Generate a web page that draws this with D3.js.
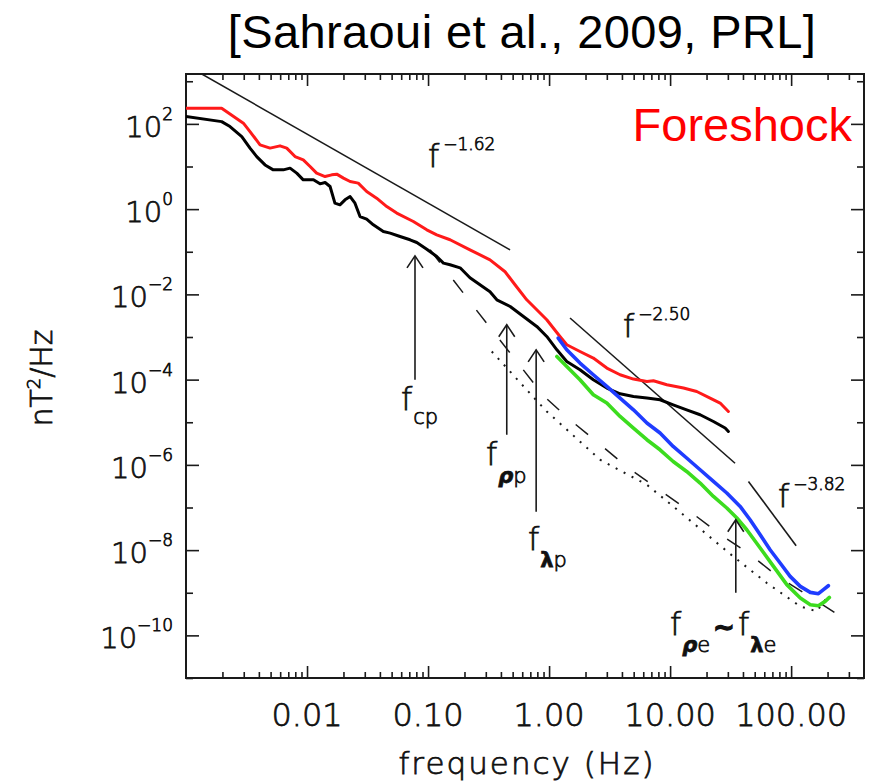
<!DOCTYPE html>
<html>
<head>
<meta charset="utf-8">
<script src="https://cdn.jsdelivr.net/npm/d3@7"></script>
<style>
  body { margin: 0; background: #fff; }
  .lbl { font-family: "DejaVu Sans", sans-serif; font-weight: 200; fill: #111;
         stroke: #111; stroke-width: 0.75px; }
</style>
</head>
<body>
<svg id="chart" width="870" height="784"></svg>
<script>
// ---- axis ticks ----
const xMajorTicks = [0.01, 0.1, 1, 10, 100];
const xTickLabels = ["0.01", "0.10", "1.00", "10.00", "100.00"];
const yDecadeExponents = [-11, -10, -9, -8, -7, -6, -5, -4, -3, -2, -1, 0, 1, 2, 3];
const yLabelExponents = [2, 0, -2, -4, -6, -8, -10];

// ---- spectra: [frequency (Hz), PSD (nT^2/Hz)] ----
const redSpectrum = [
  [0.001, 234], [0.00197, 234], [0.00298, 104], [0.00338, 66], [0.00409, 32.2],
  [0.00495, 27], [0.00598, 30.5], [0.0068, 27], [0.00796, 17.1], [0.00931, 14.3],
  [0.0106, 10], [0.012, 6.98], [0.0141, 5.82], [0.016, 6.37], [0.0176, 6.62],
  [0.02, 5.33], [0.0227, 4.44], [0.0265, 4.07], [0.0311, 2.59], [0.0376, 1.81],
  [0.0456, 1.15], [0.0551, 0.806], [0.0756, 0.512], [0.0976, 0.327], [0.118, 0.249],
  [0.152, 0.191], [0.222, 0.111], [0.325, 0.0647], [0.433, 0.0339], [0.523, 0.0168],
  [0.654, 0.00746], [0.957, 0.00254], [1.23, 0.00103], [1.40, 6.57e-4], [1.80, 4.57e-4],
  [2.32, 3.21e-4], [3.00, 1.87e-4], [3.86, 1.30e-4], [4.98, 1.03e-4], [6.43, 9.06e-5],
  [7.28, 9.40e-5], [9.40, 7.57e-5], [12.9, 6.34e-5], [16.6, 5.27e-5], [21.4, 3.70e-5],
  [25.9, 2.82e-5], [30.3, 1.79e-5]
];
const blackSpectrum = [
  [0.001, 149], [0.00197, 113], [0.00231, 86.5], [0.00289, 50.4], [0.00338, 27],
  [0.00384, 17.1], [0.0045, 10.9], [0.00526, 8.35], [0.00637, 8.35], [0.00724, 9.15],
  [0.00822, 6.98], [0.00931, 4.87], [0.0113, 4.87], [0.0128, 3.92], [0.0141, 4.21],
  [0.0155, 3.39], [0.017, 1.38], [0.0187, 1.26], [0.0206, 1.65], [0.0227, 1.97],
  [0.0249, 1.38], [0.0274, 0.670], [0.0311, 0.583], [0.0353, 0.428], [0.0427, 0.298],
  [0.0486, 0.274], [0.0587, 0.228], [0.071, 0.191], [0.0807, 0.165], [0.0976, 0.115],
  [0.118, 0.0773], [0.134, 0.0542], [0.152, 0.0494], [0.184, 0.042], [0.222, 0.0245],
  [0.325, 0.0115], [0.370, 0.00746], [0.477, 0.0052], [0.614, 0.00303], [0.791, 0.00177],
  [0.957, 0.00103], [1.16, 5.01e-4], [1.40, 2.67e-4], [1.80, 1.70e-4], [2.32, 9.93e-5],
  [3.00, 6.34e-5], [3.86, 4.66e-5], [4.98, 4.03e-5], [6.43, 3.70e-5], [8.26, 3.37e-5],
  [10.6, 2.57e-5], [13.7, 1.96e-5], [17.7, 1.50e-5], [22.8, 1.04e-5], [28.5, 7.31e-6],
  [30.3, 6.08e-6]
];
const blueSpectrum = [
  [1.19, 9.44e-4], [1.40, 5.01e-4], [1.80, 2.45e-4], [2.32, 1.30e-4], [3.00, 6.92e-5],
  [3.86, 3.70e-5], [4.98, 1.96e-5], [6.43, 9.58e-6], [8.26, 5.58e-6], [10.6, 2.71e-6],
  [13.7, 1.45e-6], [17.7, 7.69e-7], [22.8, 4.09e-7], [29.4, 2.19e-7], [37.9, 1.06e-7],
  [45.8, 5.17e-8], [55.5, 2.30e-8], [67.0, 1.02e-8], [81.1, 4.99e-9], [98.1, 2.42e-9],
  [119, 1.41e-9], [144, 1.02e-9], [168, 9.51e-10], [185, 1.18e-9], [203, 1.46e-9]
];
const greenSpectrum = [
  [1.16, 3.49e-4], [1.40, 2.04e-4], [1.80, 9.93e-5], [2.32, 4.42e-5], [3.00, 2.82e-5],
  [3.86, 1.37e-5], [4.98, 7.31e-6], [6.43, 3.89e-6], [8.26, 2.26e-6], [10.6, 1.20e-6],
  [13.7, 7.02e-7], [17.7, 3.75e-7], [22.8, 1.82e-7], [29.4, 9.73e-8], [35.6, 5.67e-8],
  [43.0, 3.01e-8], [55.5, 1.12e-8], [71.5, 4.15e-9], [92.1, 1.55e-9], [119, 7.53e-10],
  [144, 5.25e-10], [168, 4.97e-10], [191, 6.27e-10], [207, 7.78e-10]
];
const dashedModel = [
  [0.104, 0.111], [0.251, 4.28e-3], [0.910, 4.03e-5], [1.51, 1.10e-5], [2.55, 3.25e-6],
  [4.52, 8.43e-7], [8.26, 2.52e-7], [14.2, 8.55e-8], [25.4, 2.43e-8], [45.0, 8.24e-9],
  [76.2, 2.51e-9], [270, 2.56e-10], [307, 2.10e-10]
];
const dottedModel = [
  [0.336, 4.57e-4], [0.738, 3.96e-5], [0.957, 1.79e-5], [2.64, 1.32e-6], [6.43, 3.42e-7],
  [10.6, 1.06e-7], [33.2, 7.13e-9], [63.0, 1.69e-9], [119, 4.79e-10], [163, 3.66e-10],
  [197, 7.66e-10]
];

// ---- power-law guides: P = amp * f^-slope over [fMin, fMax] ----
const powerLaws = [
  { slope: 1.62, amp: 0.0332, fMin: 0.001, fMax: 0.476, label: "\u22121.62" },
  { slope: 2.50, amp: 7.57e-3, fMin: 1.49, fMax: 34.4, label: "\u22122.50" },
  { slope: 3.82, amp: 0.80, fMin: 44.4, fMax: 110, label: "\u22123.82" }
];
const powerLawLabelPos = [[428, 167], [623, 337], [778, 507]];

// ---- characteristic frequencies: arrow from psdTail up to psdTip ----
const markers = [
  { f: 0.078, psdTip: 0.080, psdTail: 9.9e-5 },
  { f: 0.447, psdTip: 1.94e-3, psdTail: 5.09e-6 },
  { f: 0.782, psdTip: 5.0e-4, psdTail: 7.96e-8 },
  { f: 34.9, psdTip: 5.17e-8, psdTail: 1.0e-9 }
];

// ---- layout ----
const svg = d3.select("#chart");
const pL = 186, pR = 864, pT = 74, pB = 678;
const x = d3.scaleLog().domain([0.001, 400]).range([pL, pR]);
const y = d3.scaleLog().domain([1e-11, 1480]).range([pB, pT]);
const ink = "#1a1a1a";

svg.append("defs").append("clipPath").attr("id", "plot")
  .append("rect").attr("x", pL).attr("y", pT)
  .attr("width", pR - pL).attr("height", pB - pT);

// title
svg.append("text").attr("x", 522).attr("y", 48).attr("text-anchor", "middle")
  .style("font-family", "Liberation Sans, Arial, sans-serif").style("font-size", "47px")
  .style("letter-spacing", "0.4px")
  .attr("fill", "#000").text("[Sahraoui et al., 2009, PRL]");

// ---- axes (ticks pointing inward on all four sides) ----
const xMinor = [];
for (let e = -3; e <= 2; e++) for (let m = 2; m <= 9; m++) {
  const v = m * Math.pow(10, e);
  if (v < 400) xMinor.push(v);
}
const yMinorExp = yDecadeExponents.filter(e => !yLabelExponents.includes(e));

function styleAxis(g) {
  g.select(".domain").remove();
  g.selectAll("line").attr("stroke", ink).attr("stroke-width", 1.6);
  g.selectAll("text").remove();
}
svg.append("g").attr("transform", `translate(0,${pB})`)
  .call(d3.axisBottom(x).tickValues(xMajorTicks).tickSize(-12)).call(styleAxis);
svg.append("g").attr("transform", `translate(0,${pB})`)
  .call(d3.axisBottom(x).tickValues(xMinor).tickSize(-6)).call(styleAxis);
svg.append("g").attr("transform", `translate(0,${pT})`)
  .call(d3.axisTop(x).tickValues(xMajorTicks).tickSize(-12)).call(styleAxis);
svg.append("g").attr("transform", `translate(0,${pT})`)
  .call(d3.axisTop(x).tickValues(xMinor).tickSize(-6)).call(styleAxis);

const yMajorVals = yLabelExponents.map(e => Math.pow(10, e));
const yMinorVals = yMinorExp.map(e => Math.pow(10, e));
svg.append("g").attr("transform", `translate(${pL},0)`)
  .call(d3.axisLeft(y).tickValues(yMajorVals).tickSize(-13)).call(styleAxis);
svg.append("g").attr("transform", `translate(${pL},0)`)
  .call(d3.axisLeft(y).tickValues(yMinorVals).tickSize(-7)).call(styleAxis);
svg.append("g").attr("transform", `translate(${pR},0)`)
  .call(d3.axisRight(y).tickValues(yMajorVals).tickSize(-13)).call(styleAxis);
svg.append("g").attr("transform", `translate(${pR},0)`)
  .call(d3.axisRight(y).tickValues(yMinorVals).tickSize(-7)).call(styleAxis);

svg.append("rect").attr("x", pL).attr("y", pT)
  .attr("width", pR - pL).attr("height", pB - pT)
  .attr("fill", "none").attr("stroke", ink).attr("stroke-width", 2);

// x tick labels
svg.append("g").selectAll("text").data(xMajorTicks).join("text")
  .attr("class", "lbl").attr("x", d => x(d)).attr("y", 726)
  .attr("text-anchor", "middle").style("font-size", "32px")
  .text((d, i) => xTickLabels[i]);

// y tick labels: 10^n
const yl = svg.append("g").selectAll("text").data(yLabelExponents).join("text")
  .attr("class", "lbl").attr("x", 173).attr("y", d => y(Math.pow(10, d)) + 13)
  .attr("text-anchor", "end").style("font-size", "29px");
yl.append("tspan").text("10");
yl.append("tspan").attr("dy", -17).style("font-size", "17px")
  .text(d => d < 0 ? "\u2212" + Math.abs(d) : String(d));

// axis titles
svg.append("text").attr("class", "lbl").attr("x", 527).attr("y", 774)
  .attr("text-anchor", "middle").style("font-size", "31px").style("letter-spacing", "2px")
  .text("frequency (Hz)");
const yt = svg.append("text").attr("class", "lbl")
  .attr("transform", "translate(52,378) rotate(-90)")
  .attr("text-anchor", "middle").style("font-size", "30px");
yt.append("tspan").text("nT");
yt.append("tspan").attr("dy", -12).style("font-size", "18px").text("2");
yt.append("tspan").attr("dy", 12).text("/Hz");

// ---- data ----
const plot = svg.append("g").attr("clip-path", "url(#plot)");
const line = d3.line().x(d => x(d[0])).y(d => y(d[1]));

// power-law guides
plot.selectAll("path.pl").data(powerLaws).join("path").attr("class", "pl")
  .attr("d", p => line([[p.fMin, p.amp * Math.pow(p.fMin, -p.slope)],
                        [p.fMax, p.amp * Math.pow(p.fMax, -p.slope)]]))
  .attr("fill", "none").attr("stroke", ink).attr("stroke-width", 1.6);

plot.append("path").attr("d", line(dashedModel)).attr("fill", "none")
  .attr("stroke", ink).attr("stroke-width", 1.5).attr("stroke-dasharray", "16,22");
plot.append("path").attr("d", line(dottedModel)).attr("fill", "none")
  .attr("stroke", ink).attr("stroke-width", 2).attr("stroke-dasharray", "2,7");

const series = [
  { data: redSpectrum, color: "#ff1a1a", w: 3 },
  { data: blackSpectrum, color: "#000", w: 3 },
  { data: blueSpectrum, color: "#1f3cff", w: 3.6 },
  { data: greenSpectrum, color: "#3cdc1e", w: 3.6 }
];
plot.selectAll("path.spec").data(series).join("path").attr("class", "spec")
  .attr("d", s => line(s.data)).attr("fill", "none")
  .attr("stroke", s => s.color).attr("stroke-width", s => s.w)
  .attr("stroke-linejoin", "round").attr("stroke-linecap", "round");

// arrows
const ag = svg.append("g").attr("stroke", ink).attr("stroke-width", 1.6).attr("fill", "none");
markers.forEach(m => {
  const xs = x(m.f), y0 = y(m.psdTail), y1 = y(m.psdTip);
  ag.append("line").attr("x1", xs).attr("x2", xs).attr("y1", y0).attr("y2", y1);
  ag.append("path").attr("d", `M${xs - 8},${y1 + 12}L${xs},${y1}L${xs + 8},${y1 + 12}`);
});

// power-law labels
powerLaws.forEach((p, i) => {
  const t = svg.append("text").attr("class", "lbl")
    .attr("x", powerLawLabelPos[i][0]).attr("y", powerLawLabelPos[i][1]).style("font-size", "32px");
  t.append("tspan").text("f");
  t.append("tspan").attr("dx", 4).attr("dy", -17).style("font-size", "17px").text(p.label);
});

// characteristic-frequency labels
function subLabel(xp, yp, sub, dy, greek) {
  const t = svg.append("text").attr("class", "lbl").attr("x", xp).attr("y", yp).style("font-size", "32px");
  t.append("tspan").text("f");
  const s = t.append("tspan").attr("dx", 1).attr("dy", dy).style("font-size", "21px");
  if (greek) {
    s.append("tspan").style("font-weight", "bold").style("font-style", greek === "\u03c1" ? "italic" : "normal").text(greek);
    s.append("tspan").text(sub);
  } else s.text(sub);
  return t;
}
subLabel(401, 410, "cp", 14);
subLabel(486, 465, "p", 18, "\u03c1");
subLabel(528, 550, "p", 17, "\u03bb");
subLabel(670, 635, "e", 17, "\u03c1");
svg.append("text").attr("class", "lbl").attr("x", 713).attr("y", 636)
  .style("font-size", "26px").style("font-weight", "bold").style("stroke-width", "1.2px")
  .text("\u223c");
subLabel(738, 635, "e", 17, "\u03bb");

// region label
svg.append("text").attr("x", 852).attr("y", 141).attr("text-anchor", "end")
  .style("font-family", "Liberation Sans, Arial, sans-serif").style("font-size", "47px")
  .attr("fill", "#ff0000").text("Foreshock");
</script>
</body>
</html>
